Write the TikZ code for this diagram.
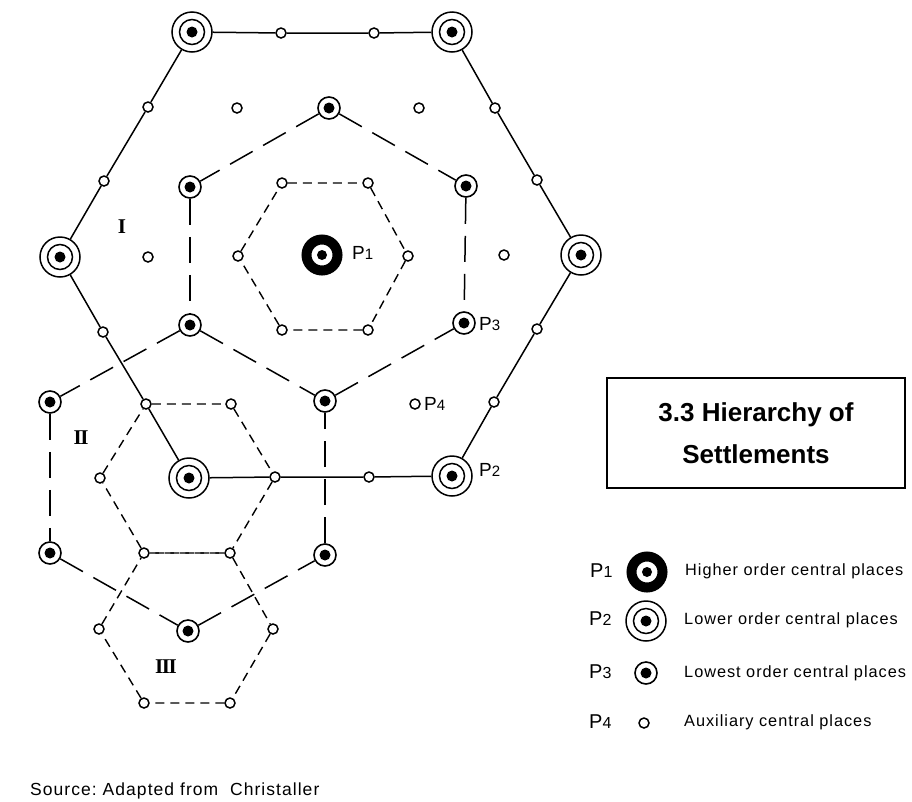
\documentclass[tikz,border=0pt]{standalone}
\usepackage{fontspec}
\setmainfont{Liberation Sans}
\newfontfamily\numfont{Liberation Serif}
\newfontfamily\legfont[LetterSpace=6]{Liberation Sans}
\begin{document}
\begin{tikzpicture}[x=1pt,y=-1pt,
  p1/.style={circle,draw,line width=10pt,minimum size=31pt,inner sep=0pt,fill=white,
    path picture={\fill[black] (path picture bounding box.center) circle (5pt);}},
  p2/.style={circle,draw,line width=1.5pt,minimum size=40pt,inner sep=0pt,fill=white,
    path picture={\draw[black,line width=1.5pt] (path picture bounding box.center) circle (12.5pt);
                  \fill[black] (path picture bounding box.center) circle (5.5pt);}},
  p3/.style={circle,draw,line width=1.6pt,minimum size=22pt,inner sep=0pt,fill=white,
    path picture={\fill[black] (path picture bounding box.center) circle (5.5pt);}},
  p4/.style={circle,draw,line width=1.5pt,minimum size=10pt,inner sep=0pt,fill=white},
  solidln/.style={line width=1.5pt},
  longdash/.style={line width=1.5pt,dash pattern=on 26pt off 12pt},
  shortdash/.style={line width=1.4pt,dash pattern=on 9pt off 6pt},
  plabel/.style={anchor=west,inner sep=0pt,font=\legfont\fontsize{19}{19}\selectfont},
  roman/.style={font=\numfont\bfseries\fontsize{21}{21}\selectfont,inner sep=0pt},
  legtext/.style={anchor=west,inner sep=0pt,font=\legfont\fontsize{16.3}{16}\selectfont},
  leglabel/.style={anchor=west,inner sep=0pt,font=\legfont\fontsize{20}{20}\selectfont}
]
\useasboundingbox (0,0) rectangle (912,801);

% ---------- nodes ----------
\node[p1] (P1) at (322,255) {};
% outer hexagon P2
\node[p2] (A) at (192,32) {};
\node[p2] (Bq) at (452,32) {};
\node[p2] (C) at (581,255) {};
\node[p2] (D) at (452,476) {};
\node[p2] (E) at (189,478) {};
\node[p2] (F) at (60,257) {};
% P4 on outer hexagon
\node[p4] (ab1) at (281,33) {};
\node[p4] (ab2) at (374,33) {};
\node[p4] (bc1) at (495,108) {};
\node[p4] (bc2) at (537,180) {};
\node[p4] (cd1) at (537,329) {};
\node[p4] (cd2) at (494,402) {};
\node[p4] (de1) at (369,477) {};
\node[p4] (de2) at (275,477) {};
\node[p4] (ef1) at (146,404) {};
\node[p4] (ef2) at (103,332) {};
\node[p4] (fa1) at (104,181) {};
\node[p4] (fa2) at (148,107) {};
% P3 hexagon
\node[p3] (T) at (329,108) {};
\node[p3] (UR) at (466,186) {};
\node[p3] (LR) at (464,323) {};
\node[p3] (B) at (325,401) {};
\node[p3] (LL) at (190,325) {};
\node[p3] (UL) at (190,187) {};
% hexagon II
\node[p3] (L1) at (50,402) {};
\node[p3] (L2) at (50,553) {};
\node[p3] (BB) at (188,631) {};
\node[p3] (R2) at (325,555) {};
% inner hexagon around P1
\node[p4] (i1) at (282,183) {};
\node[p4] (i2) at (368,183) {};
\node[p4] (i3) at (408,256) {};
\node[p4] (i4) at (368,330) {};
\node[p4] (i5) at (282,330) {};
\node[p4] (i6) at (238,256) {};
% hexagon around E
\node[p4] (e2) at (231,404) {};
\node[p4] (e4) at (230,553) {};
\node[p4] (e5) at (144,553) {};
\node[p4] (e6) at (100,478) {};
% hexagon III
\node[p4] (h3) at (273,629) {};
\node[p4] (h4) at (230,703) {};
\node[p4] (h5) at (144,703) {};
\node[p4] (h6) at (99,629) {};
% free P4
\node[p4] (f1) at (237,108) {};
\node[p4] (f2) at (419,108) {};
\node[p4] (f3) at (148,257) {};
\node[p4] (f4) at (504,255) {};
\node[p4] (f5) at (415,404) {};

% ---------- connectors ----------
\draw[solidln] (A) -- (ab1) -- (ab2) -- (Bq) -- (bc1) -- (bc2) -- (C) -- (cd1) -- (cd2) -- (D)
  -- (de1) -- (de2) -- (E) -- (ef1) -- (ef2) -- (F) -- (fa1) -- (fa2) -- (A);
\draw[longdash] (T) -- (UL);
\draw[longdash] (T) -- (UR);
\draw[longdash] (UR) -- (LR);
\draw[longdash] (UL) -- (LL);
\draw[longdash] (LL) -- (B);
\draw[longdash] (B) -- (LR);
\draw[longdash] (LL) -- (L1);
\draw[longdash] (L1) -- (L2);
\draw[longdash] (L2) -- (BB);
\draw[longdash] (BB) -- (R2);
\draw[longdash] (R2) -- (B);
\draw[shortdash] (i1) -- (i2) -- (i3) -- (i4) -- (i5) -- (i6) -- (i1);
\draw[shortdash] (ef1) -- (e2) -- (de2) -- (e4) -- (e5) -- (e6) -- (ef1);
\draw[shortdash] (e5) -- (e4) -- (h3) -- (h4) -- (h5) -- (h6) -- (e5);

% ---------- labels ----------
\node[plabel] (lP1) at (352,253) {P{\fontsize{15}{15}\selectfont 1}};
\node[plabel] (lP3) at (479,324) {P{\fontsize{15}{15}\selectfont 3}};
\node[plabel] (lP2) at (479,470) {P{\fontsize{15}{15}\selectfont 2}};
\node[plabel] (lP4) at (424,404) {P{\fontsize{15}{15}\selectfont 4}};
\node[roman] (rI) at (122,227) {I};
\node[roman] (rII) at (81,438) {I\kern-1.5ptI};
\node[roman] (rIII) at (166,667) {I\kern-1.5ptI\kern-1.5ptI};

% ---------- title box ----------
\node[draw,line width=2pt,minimum width=298pt,minimum height=110pt,align=center,
  font=\bfseries\fontsize{26}{42}\selectfont] (title) at (756,433)
  {3.3 Hierarchy of\\Settlements};

% ---------- legend ----------
\node[leglabel] (k1) at (590,571) {P{\fontsize{16}{16}\selectfont 1}};
\node[leglabel] (k2) at (589,619) {P{\fontsize{16}{16}\selectfont 2}};
\node[leglabel] (k3) at (589,672) {P{\fontsize{16}{16}\selectfont 3}};
\node[leglabel] (k4) at (589,722) {P{\fontsize{16}{16}\selectfont 4}};
\node[p1] (s1) at (647,572) {};
\node[p2] (s2) at (646,621) {};
\node[p3] (s3) at (646,673) {};
\node[p4] (s4) at (644,723) {};
\node[legtext] (t1) at (685,571) {Higher order central places};
\node[legtext] (t2) at (684,620) {Lower order central places};
\node[legtext] (t3) at (684,673) {Lowest order central places};
\node[legtext] (t4) at (684,722) {Auxiliary central places};

\node[anchor=west,inner sep=0pt,font=\legfont\fontsize{17.5}{17.5}\selectfont] (src) at (30,791)
  {Source:~Adapted from~~Christaller};
\end{tikzpicture}
\end{document}
